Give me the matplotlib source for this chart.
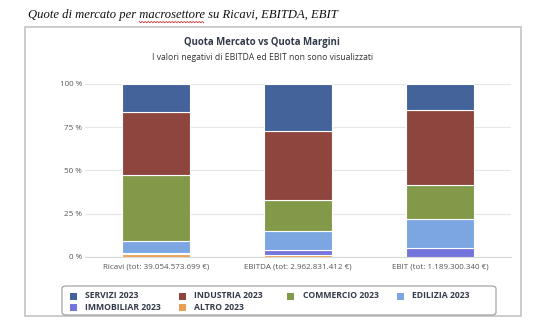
import matplotlib.pyplot as plt
import numpy as np
from matplotlib.patches import FancyBboxPatch, Rectangle

# dati (quote %)
categorie = ["Ricavi (tot: 39.054.573.699 €)",
             "EBITDA (tot: 2.962.831.412 €)",
             "EBIT (tot: 1.189.300.340 €)"]
settori = ["SERVIZI 2023", "INDUSTRIA 2023", "COMMERCIO 2023",
           "EDILIZIA 2023", "IMMOBILIAR 2023", "ALTRO 2023"]
servizi = [16.4, 27.2, 15.2]
industria = [36.3, 40.0, 43.5]
commercio = [38.2, 18.1, 19.5]
edilizia = [7.0, 10.9, 16.8]
immobiliare = [0.8, 2.9, 5.0]
altro = [1.3, 0.9, 0.0]
y_ticks = [0, 25, 50, 75, 100]

colori = ["#44639a", "#8e453e", "#83994a", "#7ba6e2", "#7374dc", "#eaa052"]

plt.rcParams["font.family"] = ["Open Sans", "DejaVu Sans"]

W, H = 545, 335
fig = plt.figure(figsize=(W / 100, H / 100), dpi=100)

def fx(px):
    return px / W

def fy(py):
    return 1 - py / H

# didascalia esterna
cap = fig.text(fx(28), fy(18), "Quote di mercato per macrosettore su Ricavi, EBITDA, EBIT",
               family="Liberation Serif", style="italic", fontsize=9.1, color="#111111",
               va="baseline", ha="left")

# cornice del grafico
fig.patches.append(Rectangle((fx(25), fy(316)), fx(521) - fx(25), fy(27) - fy(316),
                             transform=fig.transFigure, fill=False,
                             edgecolor="#c4c4c4", lw=1.2))

fig.text(fx(262), fy(43), "Quota Mercato vs Quota Margini", ha="center", va="center",
         fontsize=6.9, fontweight="bold", color="#333a4a")
fig.text(fx(263), fy(57), "I valori negativi di EBITDA ed EBIT non sono visualizzati",
         ha="center", va="center", fontsize=6.2, color="#333333")

ax = fig.add_axes([fx(85), fy(256.7), fx(511) - fx(85), fy(84) - fy(256.7)])

serie = [servizi, industria, commercio, edilizia, immobiliare, altro]
x = np.arange(len(categorie))
# impilati dal basso: altro, immobiliare, edilizia, commercio, industria, servizi
bottom = np.zeros(len(categorie))
for vals, col in reversed(list(zip(serie, colori))):
    ax.bar(x, vals, width=0.48, bottom=bottom, color=col, edgecolor="white",
           linewidth=0.8, zorder=3)
    bottom += np.array(vals)

ax.set_xlim(-0.5, 2.5)
ax.set_ylim(0, 100)
ax.set_yticks(y_ticks)
ax.set_yticklabels([f"{t} %" for t in y_ticks])
ax.set_xticks(x)
ax.set_xticklabels(categorie)
ax.tick_params(axis="both", length=0, labelsize=5.8, colors="#555555")
ax.tick_params(axis="y", pad=2)
ax.tick_params(axis="x", pad=5)
ax.grid(axis="y", color="#e6e6e6", lw=0.8, zorder=0)
for s in ["top", "right", "left"]:
    ax.spines[s].set_visible(False)
ax.spines["bottom"].set_color("#d8d8d8")
ax.spines["bottom"].set_linewidth(0.8)

# legenda con bordo arrotondato
fig.patches.append(FancyBboxPatch((fx(62), fy(315)), fx(496) - fx(62), fy(286) - fy(315),
                                  boxstyle="round,pad=0,rounding_size=0.008",
                                  transform=fig.transFigure, fill=False,
                                  edgecolor="#9a9a9a", lw=0.8))
col_x = [73, 182, 291, 400]
row_y = [296, 307]
for i, (nome, col) in enumerate(zip(settori, colori)):
    r, c = divmod(i, 4)
    mx, my = col_x[c], row_y[r]
    fig.patches.append(Rectangle((fx(mx - 3.5), fy(my + 3.5)), fx(7), fy(0) - fy(7),
                                 transform=fig.transFigure, color=col, lw=0))
    fig.text(fx(mx + 12), fy(my), nome, ha="left", va="center", fontsize=6.2,
             fontweight="bold", color="#333a4a")

# sottolineatura ondulata del correttore ortografico sotto "macrosettore"
fig.canvas.draw()
rend = fig.canvas.get_renderer()
full = cap.get_window_extent(rend)
pre = fig.text(0, 0, "Quote di mercato per ", family="Liberation Serif", style="italic",
               fontsize=9.1).get_window_extent(rend).width
parola = fig.text(0, 0, "macrosettore", family="Liberation Serif", style="italic",
                  fontsize=9.1).get_window_extent(rend).width
for t in fig.texts[-2:]:
    t.remove()
x0 = full.x0 + pre
xs = np.arange(x0, x0 + parola, 1.5)
ys = full.y0 - 0.5 + np.where(np.arange(len(xs)) % 2 == 0, 0, -1.2)
fig.add_artist(plt.Line2D(xs / W, ys / H, color="#d03030", lw=0.6,
                          transform=fig.transFigure))

fig.savefig("out.png", dpi=100)
